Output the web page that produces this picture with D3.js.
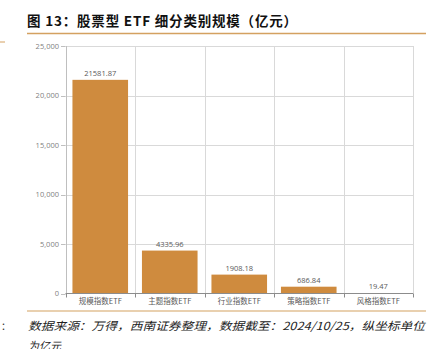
<!DOCTYPE html>
<html><head><meta charset="utf-8">
<script src="https://cdn.jsdelivr.net/npm/d3@7"></script>
<style>body{margin:0;background:#fff;}svg{display:block;}</style>
</head><body>
<script>
const categories = ["规模指数ETF","主题指数ETF","行业指数ETF","策略指数ETF","风格指数ETF"];
const values = [21581.87, 4335.96, 1908.18, 686.84, 19.47];
const valueLabels = ["21581.87","4335.96","1908.18","686.84","19.47"];
const yTicks = [0, 5000, 10000, 15000, 20000, 25000];

const W = 432, H = 349;
const svg = d3.select("body").append("svg").attr("width", W).attr("height", H);
const cjk = "'Noto Sans CJK SC', sans-serif";

svg.append("text").attr("x", 27).attr("y", 25.5)
  .attr("font-family", cjk).attr("font-weight", "bold").attr("font-size", 13.5)
  .attr("fill", "#111").attr("textLength", 270).attr("lengthAdjust", "spacing")
  .text("图 13：股票型 ETF 细分类别规模（亿元）");
svg.append("line").attr("x1", 27).attr("x2", 426).attr("y1", 33.5).attr("y2", 33.5)
  .attr("stroke", "#D4A160").attr("stroke-width", 1.5);
svg.append("line").attr("x1", 0).attr("x2", 5).attr("y1", 42).attr("y2", 42)
  .attr("stroke", "#D4A160").attr("stroke-width", 1);

const m = {l: 65.5, r: 413, t: 46, b: 293.5};
const x = d3.scaleBand().domain(categories).range([m.l, m.r]).paddingInner(0.2).paddingOuter(0.1);
const y = d3.scaleLinear().domain([0, 25000]).range([m.b, m.t]);

// horizontal gridlines
svg.append("g").selectAll("line").data(yTicks.slice(1)).join("line")
  .attr("x1", m.l).attr("x2", m.r).attr("y1", d => Math.round(y(d)) + 0.5).attr("y2", d => Math.round(y(d)) + 0.5)
  .attr("stroke", "#d9d9d9").attr("stroke-width", 1);
// vertical gridlines at category boundaries
const bounds = d3.range(categories.length + 1).map(i => m.l + i * (m.r - m.l) / categories.length);
svg.append("g").selectAll("line").data(bounds).join("line")
  .attr("x1", d => Math.round(d) + 0.5).attr("x2", d => Math.round(d) + 0.5)
  .attr("y1", m.t).attr("y2", m.b)
  .attr("stroke", (d, i) => i === 0 ? "#bfbfbf" : "#d9d9d9").attr("stroke-width", 1);

// bars
svg.append("g").selectAll("rect").data(values).join("rect")
  .attr("x", (d, i) => x(categories[i])).attr("width", x.bandwidth())
  .attr("y", d => y(d)).attr("height", d => y(0) - y(d))
  .attr("fill", "#CF8B3E");

// value labels
svg.append("g").selectAll("text").data(values).join("text")
  .attr("x", (d, i) => x(categories[i]) + x.bandwidth() / 2)
  .attr("y", d => y(d) - 4)
  .attr("text-anchor", "middle").attr("font-family", "'Open Sans', sans-serif")
  .attr("font-size", 7.5).attr("fill", "#595959")
  .text((d, i) => valueLabels[i]);

// y axis tick labels
svg.append("g").selectAll("text").data(yTicks).join("text")
  .attr("x", 59).attr("y", d => y(d) + 2.5)
  .attr("text-anchor", "end").attr("font-family", "'Open Sans', sans-serif")
  .attr("font-size", 7.5).attr("fill", "#7f7f7f")
  .text(d => d3.format(",")(d));
// y axis ticks
svg.append("g").selectAll("line").data(yTicks).join("line")
  .attr("x1", 61).attr("x2", m.l).attr("y1", d => Math.round(y(d)) + 0.5).attr("y2", d => Math.round(y(d)) + 0.5)
  .attr("stroke", "#bfbfbf");

// x axis
svg.append("line").attr("x1", m.l).attr("x2", m.r).attr("y1", m.b).attr("y2", m.b)
  .attr("stroke", "#8c8c8c").attr("stroke-width", 1);
svg.append("g").selectAll("line").data(bounds).join("line")
  .attr("x1", d => Math.round(d) + 0.5).attr("x2", d => Math.round(d) + 0.5)
  .attr("y1", m.b).attr("y2", m.b + 4).attr("stroke", "#8c8c8c");
svg.append("g").selectAll("text").data(categories).join("text")
  .attr("x", d => x(d) + x.bandwidth() / 2).attr("y", 304)
  .attr("text-anchor", "middle").attr("font-family", cjk)
  .attr("font-size", 7.5).attr("fill", "#595959").text(d => d);

// bottom rule and source
svg.append("line").attr("x1", 27).attr("x2", 426).attr("y1", 311).attr("y2", 311)
  .attr("stroke", "#D4A160").attr("stroke-width", 1.2);
svg.append("text").attr("x", 1).attr("y", 330).attr("font-size", 10).attr("fill", "#333")
  .attr("font-family", cjk).text("：");
svg.append("text").attr("x", 28).attr("y", 330)
  .attr("font-family", cjk).attr("font-style", "italic").attr("font-size", 11)
  .attr("fill", "#222").attr("textLength", 397).attr("lengthAdjust", "spacingAndGlyphs")
  .text("数据来源：万得，西南证券整理，数据截至：2024/10/25，纵坐标单位");
svg.append("text").attr("x", 28).attr("y", 350)
  .attr("font-family", cjk).attr("font-style", "italic").attr("font-size", 11)
  .attr("fill", "#222").text("为亿元");
</script>
</body></html>
